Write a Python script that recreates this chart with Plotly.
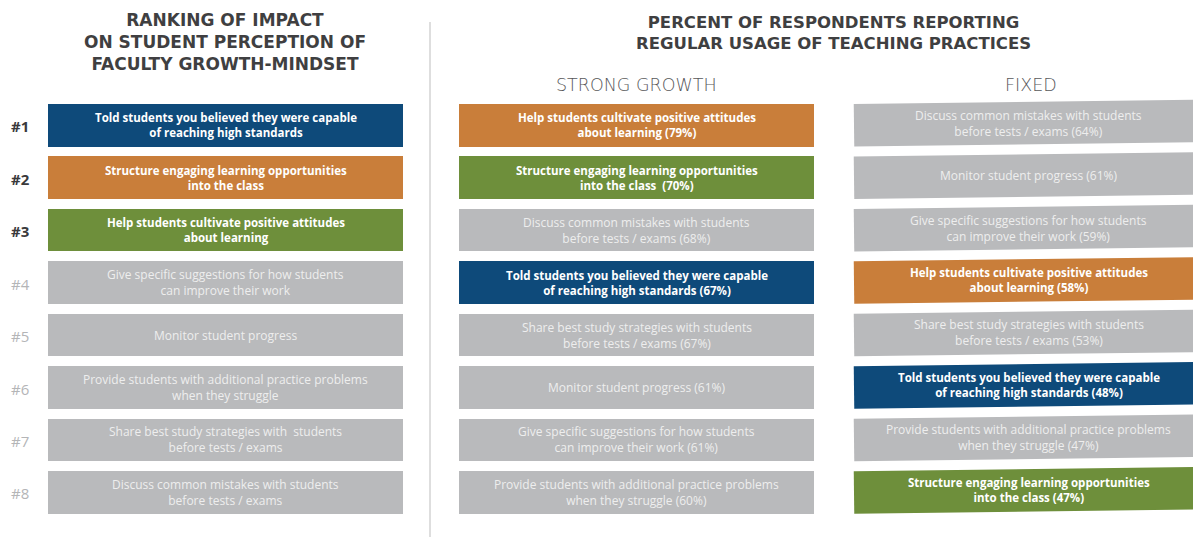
import math
import plotly.graph_objects as go

# ---- data -------------------------------------------------------------
rank_labels = ["#1", "#2", "#3", "#4", "#5", "#6", "#7", "#8"]
rank_items = [
    "Told students you believed they were capable<br>of reaching high standards",
    "Structure engaging learning opportunities<br>into the class",
    "Help students cultivate positive attitudes<br>about learning",
    "Give specific suggestions for how students<br>can improve their work",
    "Monitor student progress",
    "Provide students with additional practice problems<br>when they struggle",
    "Share best study strategies with  students<br>before tests / exams",
    "Discuss common mistakes with students<br>before tests / exams",
]
rank_tone = ["navy", "orange", "green", "grey", "grey", "grey", "grey", "grey"]

growth_items = [
    "Help students cultivate positive attitudes<br>about learning",
    "Structure engaging learning opportunities<br>into the class ",
    "Discuss common mistakes with students<br>before tests / exams",
    "Told students you believed they were capable<br>of reaching high standards",
    "Share best study strategies with students<br>before tests / exams",
    "Monitor student progress",
    "Give specific suggestions for how students<br>can improve their work",
    "Provide students with additional practice problems<br>when they struggle",
]
growth_pct = [79, 70, 68, 67, 67, 61, 61, 60]
growth_tone = ["orange", "green", "grey", "navy", "grey", "grey", "grey", "grey"]

fixed_items = [
    "Discuss common mistakes with students<br>before tests / exams",
    "Monitor student progress",
    "Give specific suggestions for how students<br>can improve their work",
    "Help students cultivate positive attitudes<br>about learning",
    "Share best study strategies with students<br>before tests / exams",
    "Told students you believed they were capable<br>of reaching high standards",
    "Provide students with additional practice problems<br>when they struggle",
    "Structure engaging learning opportunities<br>into the class",
]
fixed_pct = [64, 61, 59, 58, 53, 48, 47, 47]
fixed_tone = ["grey", "grey", "grey", "orange", "grey", "navy", "grey", "green"]

# ---- styling ----------------------------------------------------------
TONES = {"navy": "#0e4a7a", "orange": "#c97e3a", "green": "#6e8f3b", "grey": "#b9babc"}
GREY_TEXT = "#eeeeee"
TITLE_COLOR = "#3f3f41"
BOX_FONT = "Open Sans"
HEAD_FONT = "DejaVu Sans"

W, H = 1193, 537
ROW_TOP, ROW_PITCH, BOX_H = 104, 52.45, 42.5
BOX_W = 355
COL_LEFT = [48, 459, 854]
TILT_DEG = 0.7  # the last column is drawn slightly tilted


def row_center(i):
    return ROW_TOP + ROW_PITCH * i + BOX_H / 2


def with_pct(label, pct):
    return f"{label} ({pct}%)"


fig = go.Figure()
annotations = []


def box_text(x, y, text, tone):
    bold = tone != "grey"
    annotations.append(dict(
        x=x, y=y, xref="x", yref="y", text=text, showarrow=False, align="center",
        font=dict(family=BOX_FONT, size=11.5 if bold else 12,
                  color="#ffffff" if bold else GREY_TEXT,
                  weight=700 if bold else 400),
    ))


# ranking column and strong-growth column as horizontal bars
columns = [
    (COL_LEFT[0], rank_items, rank_tone),
    (COL_LEFT[1], [with_pct(t, p) for t, p in zip(growth_items, growth_pct)], growth_tone),
]
for left, items, tones in columns:
    ys = [row_center(i) for i in range(len(items))]
    fig.add_trace(go.Bar(
        orientation="h", y=ys, x=[BOX_W] * len(items), base=left, width=BOX_H,
        marker=dict(color=[TONES[t] for t in tones], line=dict(width=0)),
        hoverinfo="skip", showlegend=False,
    ))
    for y, t, tone in zip(ys, items, tones):
        box_text(left + BOX_W / 2, y, t, tone)

# fixed-mindset column: tilted boxes
a = math.radians(TILT_DEG)
for i, (t, p, tone) in enumerate(zip(fixed_items, fixed_pct, fixed_tone)):
    cx0, cy0 = COL_LEFT[2], row_center(i)
    corners = [(0, -BOX_H / 2), (BOX_W, -BOX_H / 2), (BOX_W, BOX_H / 2), (0, BOX_H / 2), (0, -BOX_H / 2)]
    xs = [cx0 + dx * math.cos(a) + dy * math.sin(a) for dx, dy in corners]
    ys = [cy0 - dx * math.sin(a) + dy * math.cos(a) for dx, dy in corners]
    fig.add_trace(go.Scatter(
        x=xs, y=ys, mode="lines", fill="toself", fillcolor=TONES[tone],
        line=dict(width=0, color=TONES[tone]), hoverinfo="skip", showlegend=False,
    ))
    tx = cx0 + 175 * math.cos(a)
    ty = cy0 - 175 * math.sin(a)
    box_text(tx, ty, with_pct(t, p), tone)

# rank labels
for i, lab in enumerate(rank_labels):
    top3 = i < 3
    annotations.append(dict(
        x=20, y=row_center(i) + 1, xref="x", yref="y", text=lab, showarrow=False,
        font=dict(family=BOX_FONT, size=15, color="#3a3a3c" if top3 else "#b4b5b7",
                  weight=700 if top3 else 400),
    ))


# headings
def heading(x, y, text, size=16.5, weight=700, color=TITLE_COLOR):
    annotations.append(dict(
        x=x, y=y, xref="x", yref="y", text=text, showarrow=False,
        font=dict(family=HEAD_FONT, size=size, color=color, weight=weight),
    ))


heading(225, 42, "RANKING OF IMPACT<br>ON STUDENT PERCEPTION OF<br>FACULTY GROWTH-MINDSET", size=17)
heading(833, 33, "PERCENT OF RESPONDENTS REPORTING<br>REGULAR USAGE OF TEACHING PRACTICES")
heading(636, 85, "STRONG GROWTH", size=17.5, weight=200, color="#58585a")
heading(1031, 85, "FIXED", size=17.5, weight=200, color="#58585a")

fig.update_layout(
    width=W, height=H,
    margin=dict(l=0, r=0, t=0, b=0),
    paper_bgcolor="#ffffff", plot_bgcolor="#ffffff",
    xaxis=dict(range=[0, W], visible=False, fixedrange=True),
    yaxis=dict(range=[H, 0], visible=False, fixedrange=True),
    barmode="overlay", bargap=0,
    annotations=annotations,
    shapes=[dict(type="line", xref="x", yref="y", x0=430, x1=430, y0=22, y1=H,
                 line=dict(color="#dedede", width=2))],
)

fig.write_html("out.html")
